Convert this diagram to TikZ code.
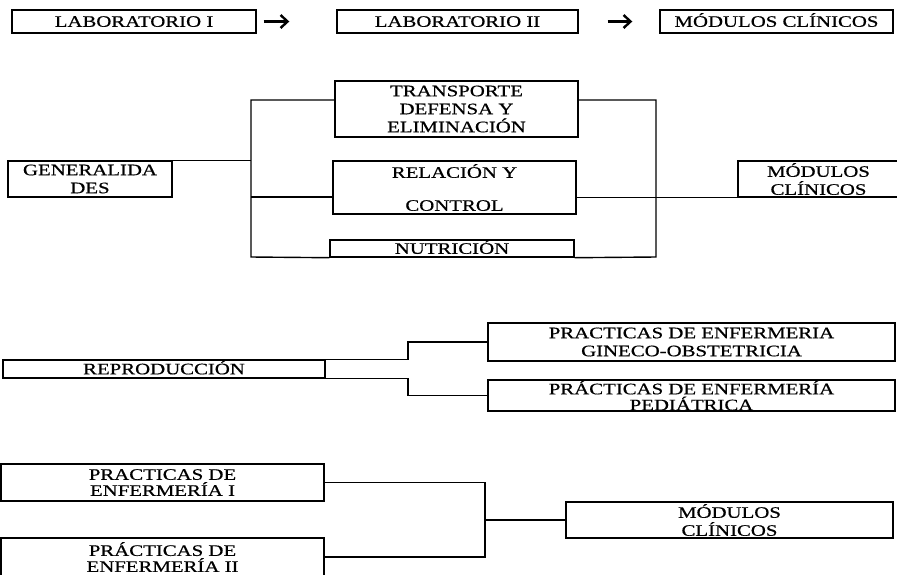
\documentclass[tikz,border=0pt]{standalone}
\usepackage{fontspec}
\setmainfont{Liberation Serif}[FakeStretch=1.3, FakeBold=0.6]
\usetikzlibrary{arrows.meta}
\tikzset{caja/.style={draw, line width=1.4pt, align=center, inner sep=0pt, font=\fontsize{16}{18}\selectfont},
         linea/.style={text height=10.6pt, text depth=0pt},
         flecha/.style={-{Straight Barb[length=7pt, width=13pt, line width=2.4pt]}, line width=2.6pt}}

\begin{document}
\begin{tikzpicture}[x=1pt, y=-1pt, line width=1.4pt]
                \useasboundingbox (0,0) rectangle (897,574);

                \node[caja, linea, minimum width=244pt, minimum height=23pt] (lab1) at (134,21.5) {LABORATORIO I};
                \node[caja, linea, minimum width=241pt, minimum height=23pt] (lab2) at (457.5,21.5) {LABORATORIO II};
                \node[caja, linea, minimum width=233pt, minimum height=23pt] (mod1) at (776.5,21.5) {MÓDULOS CLÍNICOS};

                \draw[flecha, shorten <=7pt, shorten >=47pt] (lab1.east) -- (lab2.west);
                \draw[flecha, shorten <=29pt, shorten >=27pt] (lab2.east) -- (mod1.west);

                \node[caja, minimum width=164pt, minimum height=36pt] (gen) at (90,179) {GENERALIDA\\DES};
                \node[caja, minimum width=243pt, minimum height=56pt] (trans) at (456.5,109) {TRANSPORTE\\DEFENSA Y\\ELIMINACIÓN};
                \node[caja, minimum width=243pt, minimum height=53pt] (rel) at (454.5,187.5) {RELACIÓN Y\\[15pt]CONTROL};
                \node[caja, linea, minimum width=244pt, minimum height=17pt] (nut) at (452,248.5) {NUTRICIÓN};
                \node[caja, minimum width=161pt, minimum height=36pt] (mod2) at (818.5,179) {MÓDULOS\\CLÍNICOS};

                \coordinate (lt) at (251,100);
                \coordinate (lm) at (251,197);
                \coordinate (lb) at (251,257);
                \coordinate (rt) at (656,100);
                \coordinate (rb) at (656,257);

                \draw (gen.north east) -- (gen.north east -| lt);
                \draw (trans.west |- lt) -- (lt) -- (lb) -- (nut.south west);
                \draw (lm) -- (rel.west |- lm);
                \draw (trans.east |- rt) -- (rt) -- (rb) -- (nut.south east);
                \draw (rel.east |- mod2.south) -- (mod2.south west);

                \node[caja, linea, minimum width=322pt, minimum height=18pt] (repro) at (164,369) {REPRODUCCIÓN};
                \node[caja, minimum width=407pt, minimum height=38pt] (gine) at (691.5,342) {PRACTICAS DE ENFERMERIA\\GINECO-OBSTETRICIA};
                \node[caja, minimum width=407pt, minimum height=31pt, font=\fontsize{16}{16}\selectfont] (ped) at (691.5,395.5) {PRÁCTICAS DE ENFERMERÍA\\PEDIÁTRICA};

                \coordinate (rt3) at (408,342);
                \coordinate (rb3) at (408,395.5);

                \draw (repro.north east) -| (rt3) -- (gine.west);
                \draw (repro.south east) -| (rb3) -- (ped.west);

                \node[caja, minimum width=323pt, minimum height=37pt, font=\fontsize{16}{16}\selectfont] (prac1) at (162.5,482.5) {PRACTICAS DE\\ENFERMERÍA I};
                \node[caja, minimum width=323pt, minimum height=38pt, font=\fontsize{16}{16}\selectfont] (prac2) at (162.5,557) {PRÁCTICAS DE\\ENFERMERÍA II};
                \node[caja, minimum width=327pt, minimum height=36pt] (mod3) at (729.5,520) {MÓDULOS\\CLÍNICOS};

                \coordinate (cj) at (485,520);

                \draw (prac1.east) -| (cj) |- (prac2.east);
                \draw (cj) -- (mod3.west);
\end{tikzpicture}
\end{document}
